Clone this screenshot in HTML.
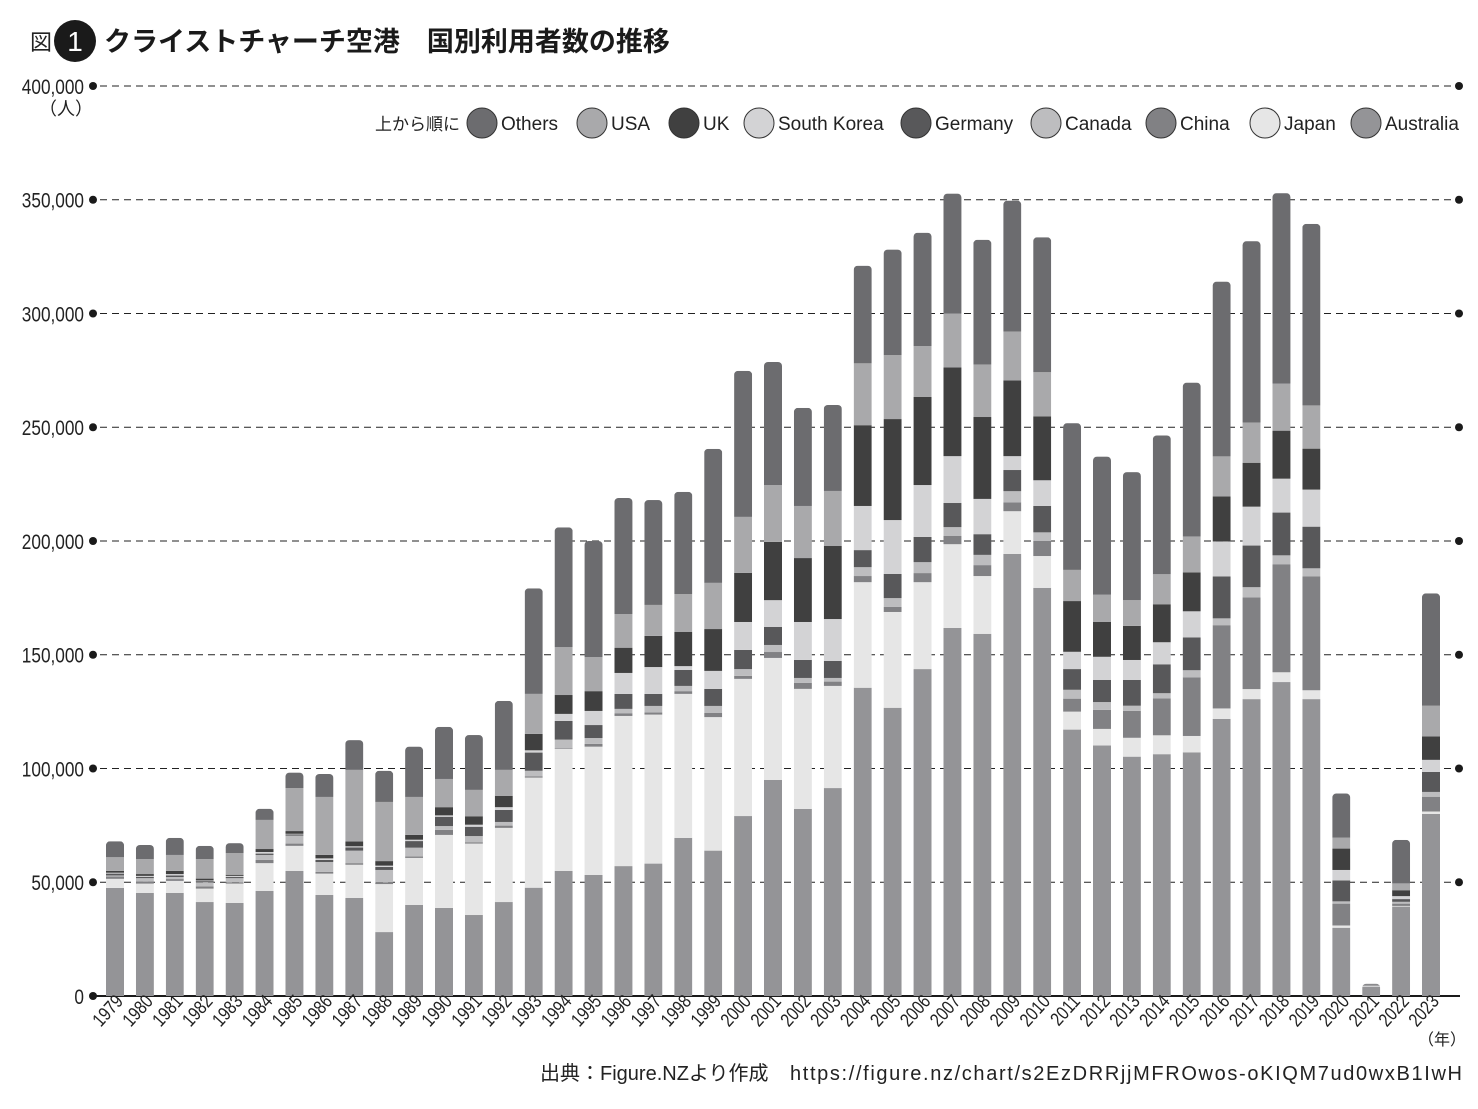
<!DOCTYPE html>
<html><head><meta charset="utf-8">
<style>
body{margin:0;background:#fff;}
svg text{font-family:"Liberation Sans","Noto Sans CJK JP",sans-serif;}
</style></head>
<body>
<svg id="chart" width="1478" height="1104" viewBox="0 0 1478 1104" xmlns="http://www.w3.org/2000/svg">
<text x="30" y="50" font-size="22" fill="#222">図</text>
<circle cx="75" cy="41" r="21" fill="#1a1a1a"/>
<text x="75" y="51" font-size="28" fill="#fff" text-anchor="middle">1</text>
<text x="104" y="51" font-size="27" font-weight="bold" fill="#1a1a1a">クライストチャーチ空港　国別利用者数の推移</text>
<text x="66" y="115" font-size="18" fill="#222" text-anchor="middle">（人）</text>
<g id="grid"></g>
<g id="bars"></g>
<g id="xlabels"></g>
<g id="legend"></g>
<text x="1418" y="1045" font-size="16" fill="#222">（年）</text>
<text x="540" y="1080" font-size="20" fill="#222">出典：Figure.NZより作成</text>
<text x="790" y="1080" font-size="20" fill="#222" textLength="672">https://figure.nz/chart/s2EzDRRjjMFROwos-oKIQM7ud0wxB1IwH</text>
</svg>
<script>
const years=[1979,1980,1981,1982,1983,1984,1985,1986,1987,1988,1989,1990,1991,1992,1993,1994,1995,1996,1997,1998,1999,2000,2001,2002,2003,2004,2005,2006,2007,2008,2009,2010,2011,2012,2013,2014,2015,2016,2017,2018,2019,2020,2021,2022,2023];
// values in thousands of people
const australia=[47.5,45.3,45.3,41.3,40.9,46.2,55,44.4,43.1,28.1,40,38.7,35.6,41.3,47.6,55,53.2,57.1,58.2,69.5,63.9,79.1,95,82.2,91.4,135.5,126.7,143.7,161.8,159.2,194.3,179.4,117.1,110.1,105.2,106.3,107.1,121.8,130.5,138,130.5,30,4.1,39.3,80];
const japan=[4,4.1,5.3,5.9,8.5,12.2,11,9.4,14.6,21.1,20.7,32.1,31.4,32.6,48.4,53.7,56.4,66,65.5,63.3,58.7,60.3,53.6,52.8,44.9,46.4,42.1,38.2,36.8,25.4,18.8,14,7.9,7.3,8.3,8.3,7.2,4.6,4.4,4.3,3.9,1,0.2,0.3,1.1];
const china=[1,0.9,0.8,1,0.6,1.4,1,0.8,0.7,0.8,0.6,2.2,0.6,1,0.6,0.3,1.2,1.2,0.9,1.2,1.8,1.3,2.6,2.6,1.9,2.7,2.2,4,3.6,4.8,3.9,6.6,5.7,8.4,11.8,16.2,25.8,36.6,40.3,47.5,50,9.6,0,1,6.5];
const canada=[0.5,1.5,0.9,1.8,1.8,2.2,3.5,4.3,5.5,5.4,3.9,1.7,2.7,1.6,2.4,3.7,2.6,1.9,2.9,2.3,3.1,3,3.1,2.2,1.6,3.9,3.9,4.8,3.9,4.5,4.9,3.8,3.9,3.4,2.3,2.3,3.1,3,4.5,3.9,3.6,1,0.2,0.8,2.1];
const germany=[0.8,0.6,0.7,0.5,0.5,0.6,0.5,0.9,1.4,1.3,2.9,4.1,4.1,5.3,8,8.2,5.7,6.6,5.3,7,7.5,8.4,7.9,7.9,7.5,7.5,10.6,11.1,10.6,9.1,9.3,11.6,9.1,9.7,11.3,12.7,14.4,18.4,18.3,18.8,18.3,9.2,0.1,1.2,8.8];
const southKorea=[0.4,0.4,0.6,0.3,0.5,0.7,0.3,0.7,0.5,0.6,0.6,0.6,0.9,1.2,1,3.1,6.2,9.2,11.8,1.7,7.9,12.3,11.8,16.7,18.4,19.4,23.7,22.8,20.6,15.5,6.1,11.3,7.6,10.2,8.8,9.7,11.5,15.4,17.1,14.9,16.3,4.6,0.1,1.3,5.3];
const uk=[0.8,0.8,1.4,0.8,0.5,1.3,1.2,1.5,2.1,2,2.1,3.6,3.7,5,7.2,8.3,8.7,11.1,13.7,15,18.4,21.6,25.6,28.1,32.1,35.5,44.4,38.7,39,36,33.3,28.1,22.3,15.3,15,16.7,17.1,19.8,19.3,21.1,18,9.4,0.1,2.6,10.3];
const usa=[6,6.6,7,8.6,9.5,12.8,18.9,25.5,31.5,26,16.7,12.4,11.6,11.4,17.6,21.1,15,14.8,13.6,16.7,20.3,24.6,25,22.9,24.2,27.2,28.1,22.4,23.7,23.1,21.5,19.4,13.7,12,11.3,13.2,15.8,17.6,17.7,20.7,19,4.8,0.2,3,13.5];
const others=[7,6.2,7.5,5.8,4.4,4.9,6.8,10.1,13.1,13.7,22.1,22.9,24.1,30.3,46.4,52.6,51,51,46.1,44.9,58.9,64.2,54.1,43.1,37.8,42.9,46.4,49.8,52.7,54.8,57.5,59.3,64.5,60.7,56.3,61,67.6,76.8,79.7,83.7,79.8,19.4,0.4,19.1,49.4];
const yTicks=[0,50,100,150,200,250,300,350,400];
const yTickLabels=["0","50,000","100,000","150,000","200,000","250,000","300,000","350,000","400,000"];
const seriesNames=["Australia","Japan","China","Canada","Germany","South Korea","UK","USA","Others"];
const legendOrder=["Others","USA","UK","South Korea","Germany","Canada","China","Japan","Australia"];

const series=[australia,japan,china,canada,germany,southKorea,uk,usa,others];
const colors={"Australia":"#949497","Japan":"#e6e6e6","China":"#818184","Canada":"#bdbdbf","Germany":"#58585a","South Korea":"#d3d3d5","UK":"#404040","USA":"#a9a9ab","Others":"#6c6c6f"};
const NS="http://www.w3.org/2000/svg";
const Y0=996,YTOP=86,VMAX=400;
const yScale=v=>Y0-(v/VMAX)*(Y0-YTOP);
const X0=115,XSTEP=(1431-115)/(years.length-1),BW=18;
const xScale=i=>X0+i*XSTEP;
function mk(tag,attrs,parent){const e=document.createElementNS(NS,tag);for(const k in attrs)e.setAttribute(k,attrs[k]);parent.appendChild(e);return e;}
const grid=document.getElementById('grid');
yTicks.forEach((t,i)=>{
  const y=yScale(t);
  if(t>0){
    const l=mk('line',{x1:100,x2:1454,y1:y,y2:y,stroke:'#222','stroke-width':1,'stroke-dasharray':'7,5'},grid);
    
    
    const d2=mk('circle',{cx:1459,cy:y,r:4,fill:'#1a1a1a'},grid);
    
    
  }
  const d=mk('circle',{cx:93,cy:y,r:4,fill:'#1a1a1a'},grid);
  
  
  const tx=mk('text',{x:84,y:y+8,'font-size':21,'text-anchor':'end',fill:'#222',transform:`translate(84 0) scale(0.82 1) translate(-84 0)`},grid);
  tx.textContent=yTickLabels[i];
  
  
});
const axis=mk('line',{x1:95,x2:1460,y1:Y0,y2:Y0,stroke:'#1a1a1a','stroke-width':2},grid);



const bars=document.getElementById('bars');
const defs=mk('defs',{},bars);
years.forEach((yr,i)=>{
  let total=0;series.forEach(s=>total+=s[i]);
  const x=xScale(i)-BW/2;
  const cp=mk('clipPath',{id:'clip'+i},defs);
  const top=yScale(total);
  mk('rect',{x:x,y:top,width:BW,height:Y0-top+6,rx:4,ry:4},cp);
  const g=mk('g',{'clip-path':`url(#clip${i})`},bars);
  
  
  let cum=0;
  series.forEach((s,k)=>{
    const y1=yScale(cum+s[i]),y2=yScale(cum);
    cum+=s[i];
    if(s[i]<=0)return;
    const r=mk('rect',{x:x,y:y1,width:BW,height:Math.max(0,y2-y1),fill:colors[seriesNames[k]]},g);
    
    
  });
  const xl=document.getElementById('xlabels');
  const cx=xScale(i)+9,cy=1002;
  const t=mk('text',{x:cx,y:cy,'font-size':19,'text-anchor':'end',fill:'#222',transform:`rotate(-48 ${cx} ${cy}) translate(${cx} ${cy}) scale(0.82 1) translate(${-cx} ${-cy})`},xl);
  t.textContent=String(yr);
  
  
});

const lg=document.getElementById('legend');
const lt=mk('text',{x:375,y:130,'font-size':17,fill:'#222'},lg);
lt.textContent='上から順に';


const legX=[482,592,684,759,916,1046,1161,1265,1366];
legendOrder.forEach((n,i)=>{
  const g=mk('g',{},lg);
  
  
  mk('circle',{cx:legX[i],cy:123,r:15,fill:colors[n],stroke:'#333','stroke-width':1},g);
  const t=mk('text',{x:legX[i]+19,y:130,'font-size':19,fill:'#222'},g);
  t.textContent=n;
});
</script>
</body></html>
